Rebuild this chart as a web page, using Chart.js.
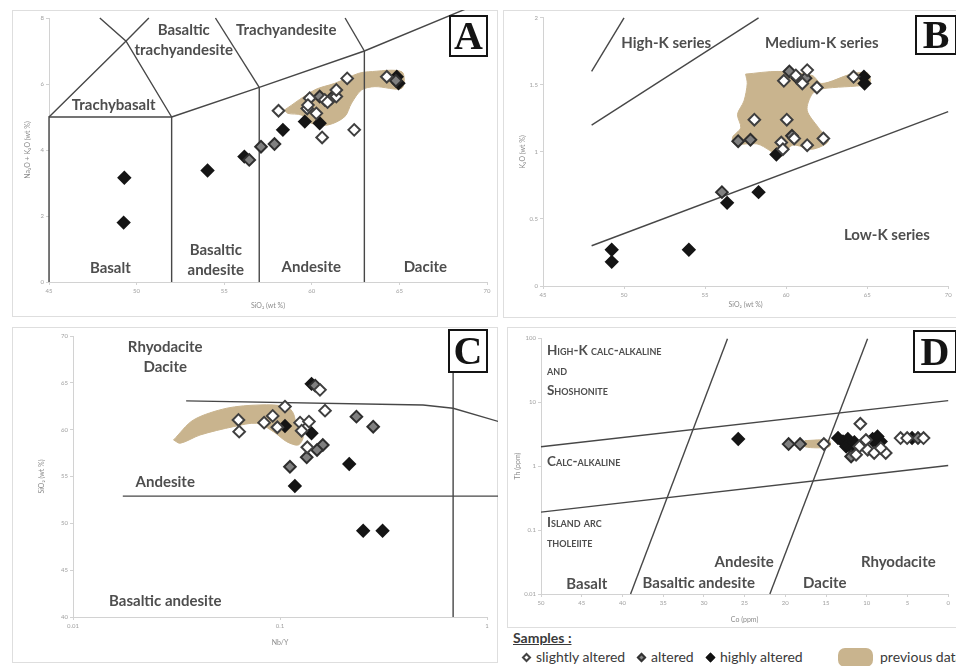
<!DOCTYPE html>
<html><head><meta charset="utf-8">
<script src="https://cdn.jsdelivr.net/npm/chart.js@4.4.1/dist/chart.umd.min.js"></script>
<style>
html,body{margin:0;padding:0;background:#fff;width:956px;height:666px;overflow:hidden;font-family:Lato,'Open Sans',sans-serif;}
.frame{position:absolute;border:1px solid #dedede;box-sizing:border-box;}
canvas{position:absolute;}
.tag{position:absolute;background:#fff;border:2px solid #141414;box-sizing:border-box;font-family:'Liberation Serif','DejaVu Serif',serif;font-weight:bold;font-size:40px;text-align:center;color:#141414;}
.lg{position:absolute;font-size:14px;color:#3a3a3a;white-space:nowrap;}
.dia{position:absolute;width:7px;height:7px;transform:rotate(45deg);box-sizing:border-box;}
</style></head>
<body>
<div class="frame" style="left:12px;top:10px;width:486px;height:307px"></div>
<div class="frame" style="left:503px;top:10px;width:470px;height:308px"></div>
<div class="frame" style="left:12px;top:327px;width:486px;height:336px"></div>
<div class="frame" style="left:507px;top:327px;width:470px;height:301px"></div>

<canvas id="cA" width="486" height="307" style="left:12px;top:10px;width:486px;height:307px"></canvas>
<canvas id="cB" width="453" height="308" style="left:503px;top:10px;width:453px;height:308px"></canvas>
<canvas id="cC" width="486" height="336" style="left:12px;top:327px;width:486px;height:336px"></canvas>
<canvas id="cD" width="449" height="301" style="left:507px;top:327px;width:449px;height:301px"></canvas>

<div class="tag" style="left:449px;top:15px;width:39px;height:42px;line-height:38px">A</div>
<div class="tag" style="left:915px;top:15px;width:42px;height:40px;line-height:36px">B</div>
<div class="tag" style="left:448px;top:329px;width:40px;height:44px;line-height:40px">C</div>
<div class="tag" style="left:913px;top:330px;width:44px;height:43px;line-height:39px">D</div>

<div class="lg" style="left:513px;top:629px;font-weight:bold;text-decoration:underline">Samples :</div>
<div class="dia" style="left:523px;top:654px;border:2px solid #444;background:#fff"></div>
<div class="lg" style="left:536px;top:648px">slightly altered</div>
<div class="dia" style="left:638px;top:654px;border:2px solid #333;background:#888"></div>
<div class="lg" style="left:651px;top:648px">altered</div>
<div class="dia" style="left:707px;top:654px;border:2px solid #111;background:#111"></div>
<div class="lg" style="left:720px;top:648px">highly altered</div>
<div style="position:absolute;left:838px;top:648px;width:35px;height:19px;border-radius:7px;background:#c9b48e"></div>
<div class="lg" style="left:880px;top:648px">previous data</div>

<script>
const TAN = '#c9b48e';
const LINE = '#474747';
const LABEL = '#4e4e4e';

// ---------- Panel A : TAS (SiO2 vs Na2O+K2O) ----------
const tasXTicks = [45, 50, 55, 60, 65, 70];
const tasYTicks = [0, 2, 4, 6, 8];
const tasSlight = [[58.1,5.19],[59.74,5.26],[60.26,5.11],[59.88,5.57],[60.74,5.52],[61.4,5.62],[61.4,5.82],[62.02,6.17],[60.59,4.38],[62.42,4.61],[64.28,6.22],[59.78,5.36],[60.9,5.45]];
const tasAltered = [[57.1,4.10],[57.87,4.18],[60.45,5.62],[61.12,5.57],[64.8,6.1],[56.43,3.70]];
const tasHighly = [[49.3,3.16],[49.26,1.80],[54.05,3.38],[56.15,3.80],[58.35,4.61],[59.6,4.86],[60.45,4.81],[64.85,6.22],[64.95,6.02]];
const tasPrevious = [[58.44,5.21],[60.16,5.82],[61.31,6.02],[62.65,6.32],[63.23,6.37],[65.14,6.37],[65.14,5.87],[63.6,5.92],[62.84,5.82],[62.27,5.42],[61.88,5.01],[60.93,4.76],[59.97,4.81],[59.4,5.06],[58.64,5.11]];
const tasBoundaries = [
  [[45,0],[45,5],[52,5],[52,0]],
  [[52,5],[57,5.9],[63,7],[69,8.32]],
  [[57,0],[57,5.9]],
  [[63,0],[63,7]],
  [[45,5],[49.4,7.3],[50.7,8]],
  [[52,5],[49.4,7.3],[47.9,8]],
  [[57,5.9],[54.5,8]],
  [[63,7],[61.9,8]]
];

// ---------- Panel B : SiO2 vs K2O ----------
const kXTicks = [45, 50, 55, 60, 65, 70];
const kYTicks = [0, 0.5, 1, 1.5, 2];
const kSlight = [[58.04,1.24],[60.04,1.24],[59.7,1.07],[59.8,1.02],[60.5,1.10],[61.3,1.05],[62.3,1.10],[59.86,1.53],[61.3,1.61],[61.0,1.51],[61.9,1.48],[64.16,1.56],[60.6,1.57]];
const kAltered = [[56.04,0.70],[57.04,1.08],[57.8,1.09],[60.36,1.12],[60.2,1.60],[61.2,1.55]];
const kHighly = [[49.24,0.27],[49.24,0.18],[54.0,0.27],[56.36,0.62],[58.3,0.70],[59.4,0.98],[64.8,1.56],[64.84,1.51],[60.7,1.55]];
const kPrevious = [[57.5,1.58],[59.5,1.60],[61.6,1.57],[62.2,1.51],[64.0,1.58],[65.0,1.59],[65.2,1.53],[65.0,1.50],[62.2,1.47],[61.6,1.43],[61.3,1.31],[62.0,1.18],[62.6,1.08],[61.6,1.02],[60.4,1.05],[59.6,0.96],[59.0,1.01],[58.2,1.06],[56.8,1.06],[56.7,1.11],[57.2,1.18],[57.0,1.28],[57.4,1.38],[57.6,1.51]];
const kBoundaries = [
  [[48,1.6],[50,2.0]],
  [[48,1.2],[58.3,2.0]],
  [[48,0.3],[70,1.3]]
];

// ---------- Panel C : Nb/Y vs SiO2 ----------
const nbXTicks = [0.01, 0.1, 1];
const nbYTicks = [40, 45, 50, 55, 60, 65, 70];
const nbSlight = [[0.063,61.04],[0.0635,59.79],[0.0838,60.75],[0.0922,61.47],[0.0971,60.26],[0.1057,62.46],[0.125,60.75],[0.138,60.86],[0.1272,59.89],[0.165,62.03],[0.1355,58.12],[0.156,64.25]];
const nbAltered = [[0.148,64.7],[0.234,61.39],[0.282,60.32],[0.161,58.36],[0.151,57.83],[0.1346,57.05],[0.1117,56.04]];
const nbHighly = [[0.142,64.89],[0.1057,60.40],[0.142,59.61],[0.216,56.33],[0.118,53.98],[0.2523,49.2],[0.313,49.2]];
const nbPrevious = [[0.0306,58.9],[0.0382,61.04],[0.0553,62.29],[0.080,62.64],[0.1077,62.46],[0.116,61.75],[0.1205,60.32],[0.1295,59.25],[0.1224,58.36],[0.1077,58.72],[0.0929,59.79],[0.0772,60.68],[0.0596,60.32],[0.0411,59.43],[0.033,58.55]];
const nbBoundaries = [
  [[0.0352,63.07],[0.491,62.64],[0.686,62.29],[1.14,60.86]],
  [[0.0174,52.9],[1.14,52.9]],
  [[0.686,66.06],[0.686,40]]
];

// ---------- Panel D : Co vs Th ----------
const coXTicks = [50, 45, 40, 35, 30, 25, 20, 15, 10, 5, 0];
const coYTicks = [0.01, 0.1, 1, 10, 100];
const coSlight = [[15.27,2.2],[10.79,4.57],[10.9,2.02],[10.1,2.55],[9.89,1.79],[9.09,1.6],[7.67,1.6],[8.28,1.9],[11.31,1.5],[5.85,2.73],[5.04,2.73],[3.03,2.73]];
const coAltered = [[19.6,2.2],[18.19,2.2],[11.92,1.41],[3.71,2.73]];
const coHighly = [[25.78,2.64],[13.53,2.73],[12.92,2.42],[12.32,2.64],[12.52,2.02],[11.8,1.9],[11.52,2.35],[9.28,2.64],[8.88,2.27],[8.28,2.42],[8.68,2.9],[4.44,2.73]];
const coPrevious = [[17.6,2.5],[14.6,2.5],[14.6,2.0],[17.6,2.0]];
const coBoundaries = [
  [[50,2.0],[0,10.5]],
  [[50,0.19],[0,1.02]],
  [[39,0.01],[27.1,97]],
  [[21.9,0.01],[9.9,97]]
];

// ---------- helpers ----------
const toXY = a => a.map(p => ({x: p[0], y: p[1]}));
function sampleSets(slight, altered, highly) {
  const base = {pointStyle: 'rectRot', pointRadius: 5.8, borderWidth: 2};
  return [
    Object.assign({label: 'slightly altered', data: toXY(slight), backgroundColor: '#ffffff', borderColor: '#3f3f3f'}, base),
    Object.assign({label: 'altered', data: toXY(altered), backgroundColor: '#808080', borderColor: '#2e2e2e'}, base),
    Object.assign({label: 'highly altered', data: toXY(highly), backgroundColor: '#151515', borderColor: '#151515'}, base)
  ];
}
function lineSets(lines) {
  return lines.map(l => ({data: toXY(l), showLine: true, borderColor: LINE, borderWidth: 1.4, pointRadius: 0, fill: false, clip: false}));
}
function polySet(poly) {
  return {label: 'previous data', data: toXY(poly.concat([poly[0]])), showLine: true, fill: 'shape', backgroundColor: TAN, borderColor: TAN, borderWidth: 1, pointRadius: 0, tension: 0.3};
}
function scale(o) {
  return {
    type: o.type || 'linear', min: o.min, max: o.max, reverse: !!o.reverse,
    afterBuildTicks: sc => { sc.ticks = o.ticks.map(v => ({value: v})); },
    afterFit: sc => {
      if (o.horizontal) { sc.height = o.size; sc.paddingLeft = 0; sc.paddingRight = 0; }
      else { sc.width = o.size; sc.paddingTop = 0; sc.paddingBottom = 0; }
    },
    grid: {display: true, drawOnChartArea: false, drawTicks: true, tickLength: 3, color: '#d2d2d2'},
    border: {display: true, color: '#d2d2d2', width: 1},
    ticks: {font: {size: 6, family: 'Lato'}, color: '#a0a0a0', padding: 2, maxRotation: 0, autoSkip: false, callback: v => String(v)},
    title: {display: true, text: o.title, font: {size: 7, family: 'Lato'}, color: '#8c8c8c', padding: 0}
  };
}
function labelPlugin(items) {
  return {
    id: 'regionLabels',
    afterDatasetsDraw(chart) {
      const ctx = chart.ctx, xs = chart.scales.x, ys = chart.scales.y;
      ctx.save();
      ctx.fillStyle = LABEL;
      ctx.textBaseline = 'middle';
      for (const it of items) {
        ctx.font = it.caps ? 'small-caps bold 13.5px Lato' : 'bold 15px Lato';
        if ('fontVariantCaps' in ctx) ctx.fontVariantCaps = it.caps ? 'small-caps' : 'normal';
        ctx.textAlign = it.align || 'center';
        ctx.fillText(it.text, xs.getPixelForValue(it.x), ys.getPixelForValue(it.y));
      }
      ctx.restore();
    }
  };
}
function makeChart(id, c) {
  return new Chart(document.getElementById(id), {
    type: 'scatter',
    data: {datasets: [...sampleSets(c.slight, c.altered, c.highly), ...lineSets(c.lines), polySet(c.prev)]},
    options: {
      responsive: false, animation: false, events: [],
      layout: {padding: c.pad},
      plugins: {legend: {display: false}, tooltip: {enabled: false}},
      scales: {x: c.x, y: c.y}
    },
    plugins: [labelPlugin(c.labels)]
  });
}

makeChart('cA', {
  slight: tasSlight, altered: tasAltered, highly: tasHighly, lines: tasBoundaries, prev: tasPrevious,
  pad: {left: 12, right: 11, top: 8, bottom: 7},
  x: scale({min: 45, max: 70, ticks: tasXTicks, horizontal: true, size: 28, title: 'SiO₂ (wt %)'}),
  y: scale({min: 0, max: 8, ticks: tasYTicks, size: 25, title: 'Na₂O + K₂O (wt %)'}),
  labels: [
    {text: 'Basaltic', x: 52.69, y: 7.64}, {text: 'trachyandesite', x: 52.69, y: 7.03},
    {text: 'Trachyandesite', x: 58.54, y: 7.64}, {text: 'Trachybasalt', x: 48.69, y: 5.36},
    {text: 'Basalt', x: 48.5, y: 0.43}, {text: 'Basaltic', x: 54.52, y: 0.97}, {text: 'andesite', x: 54.52, y: 0.36},
    {text: 'Andesite', x: 59.97, y: 0.45}, {text: 'Dacite', x: 66.48, y: 0.45}
  ]
});
makeChart('cB', {
  slight: kSlight, altered: kAltered, highly: kHighly, lines: kBoundaries, prev: kPrevious,
  pad: {left: 16, right: 0, top: 7, bottom: 9},
  x: scale({min: 45, max: 70, ticks: kXTicks, horizontal: true, size: 23, title: 'SiO₂ (wt %)'}),
  y: scale({min: 0, max: 2, ticks: kYTicks, size: 24, title: 'K₂O (wt %)'}),
  labels: [
    {text: 'High-K series', x: 52.6, y: 1.814}, {text: 'Medium-K series', x: 62.2, y: 1.814},
    {text: 'Low-K series', x: 66.22, y: 0.377}
  ]
});
makeChart('cC', {
  slight: nbSlight, altered: nbAltered, highly: nbHighly, lines: nbBoundaries, prev: nbPrevious,
  pad: {left: 26, right: 11, top: 9, bottom: 16},
  x: scale({type: 'logarithmic', min: 0.01, max: 1, ticks: nbXTicks, horizontal: true, size: 30, title: 'Nb/Y'}),
  y: scale({min: 40, max: 70, ticks: nbYTicks, size: 35, title: 'SiO₂ (wt %)'}),
  labels: [
    {text: 'Rhyodacite', x: 0.0279, y: 68.81}, {text: 'Dacite', x: 0.0279, y: 66.67},
    {text: 'Andesite', x: 0.0279, y: 54.37}, {text: 'Basaltic andesite', x: 0.0279, y: 41.71}
  ]
});
makeChart('cD', {
  slight: coSlight, altered: coAltered, highly: coHighly, lines: coBoundaries, prev: coPrevious,
  pad: {left: 7, right: 3, top: 11, bottom: 4},
  x: scale({min: 0, max: 50, reverse: true, ticks: coXTicks, horizontal: true, size: 30, title: 'Co (ppm)'}),
  y: scale({type: 'logarithmic', min: 0.01, max: 100, ticks: coYTicks, size: 27, title: 'Th (ppm)'}),
  labels: [
    {text: 'High-K calc-alkaline', x: 49.27, y: 64.2, align: 'left', caps: true},
    {text: 'and', x: 49.27, y: 30.9, align: 'left', caps: true},
    {text: 'Shoshonite', x: 49.27, y: 15.0, align: 'left', caps: true},
    {text: 'Calc-alkaline', x: 49.27, y: 1.16, align: 'left', caps: true},
    {text: 'Island arc', x: 49.27, y: 0.129, align: 'left', caps: true},
    {text: 'tholeiite', x: 49.27, y: 0.063, align: 'left', caps: true},
    {text: 'Andesite', x: 25.05, y: 0.0309}, {text: 'Basaltic andesite', x: 30.63, y: 0.0147},
    {text: 'Basalt', x: 44.38, y: 0.0143}, {text: 'Dacite', x: 15.15, y: 0.0150},
    {text: 'Rhyodacite', x: 6.13, y: 0.0309}
  ]
});
</script>
</body></html>
